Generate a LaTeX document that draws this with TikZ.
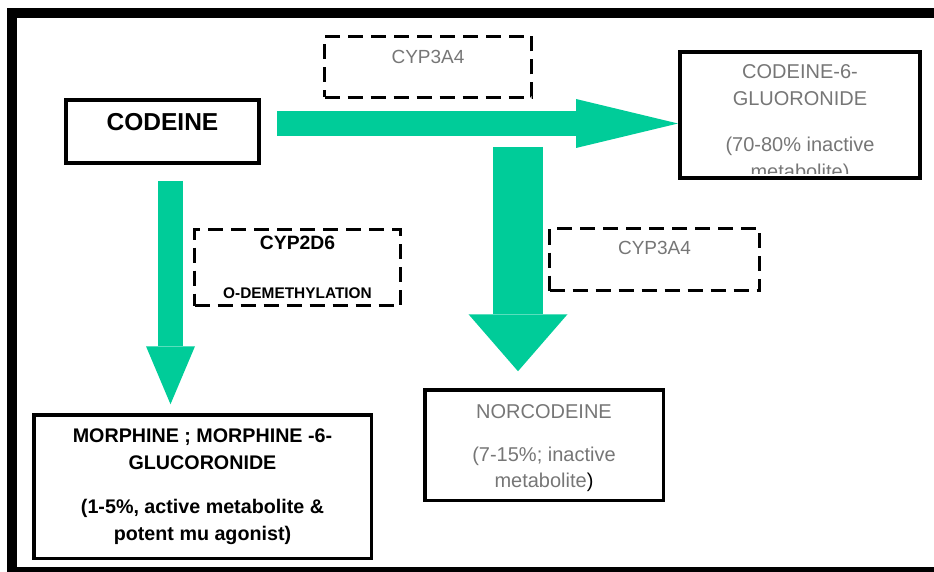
\documentclass[tikz,border=0pt]{standalone}
\usepackage{fontspec}
\setmainfont{Liberation Sans}
\usepackage{xcolor}
\usetikzlibrary{arrows.meta,positioning,calc}
\definecolor{flowgreen}{HTML}{00CC99}
\definecolor{greytext}{HTML}{767676}

\begin{document}
\begin{tikzpicture}[x=1pt, y=-1pt,
  solidbox/.style={rectangle, draw, line width=4pt, inner sep=0pt, align=center},
  cypbox/.style={rectangle, draw, line width=3pt, dash pattern=on 15pt off 8pt, inner sep=0pt, align=center},
  flow/.style={flowgreen, line width=25pt},
  greyfont/.style={text=greytext, font=\fontsize{20}{26}\selectfont},
  cypfont/.style={text=greytext, font=\fontsize{19}{23}\selectfont}
]
\useasboundingbox (0,0) rectangle (934,572);
\clip (0,0) rectangle (934,572);

\draw[line width=10pt] (945,13) -- (12,13) -- (12,572) -- (945,572);

\node[solidbox, minimum width=193pt, text height=30.5pt, text depth=32.5pt, font=\bfseries\fontsize{24.5}{28}\selectfont] (codeine) at (162.5,131.5) {CODEINE};

\node[solidbox, minimum width=240pt, minimum height=126pt] (c6g) at (800,115) {};
\node[solidbox, line width=3.5pt, minimum width=337.5pt, minimum height=143.5pt, font=\bfseries\fontsize{19.7}{27}\selectfont] (morphine) at (202.5,486.5) {MORPHINE ; MORPHINE -6-\\GLUCORONIDE\\[17pt](1-5\%, active metabolite \&\\potent mu agonist)};
\node[solidbox, line width=3.5pt, minimum width=238.5pt, minimum height=110.5pt, text height=29pt, text depth=81.5pt, greyfont] (norcodeine) at (544,445) {NORCODEINE};
\node[inner sep=0pt, align=center, greyfont, below=59pt of norcodeine.north, anchor=north] (norcodeinenote) {(7-15\%; inactive\\metabolite\textcolor{black}{)}};

\draw[flow, -{Triangle[length=102pt, width=49pt, line width=0pt]}] ([xshift=16pt, yshift=8pt]codeine.east) coordinate (toright) -- (toright -| c6g.west);
\draw[flow, -{Triangle[length=58pt, width=49pt, line width=0pt]}] ([xshift=8pt, yshift=-16pt]codeine.south) coordinate (todown) -- ([yshift=8.75pt]todown |- morphine.north);
\coordinate (split) at (518,147);
\draw[flow, line width=50pt, -{Triangle[length=57pt, width=99pt, line width=0pt]}] (split) -- ([yshift=16.75pt]split |- norcodeine.north);

\node[solidbox, minimum width=240pt, minimum height=126pt] at (c6g) {};
\begin{scope}
\clip ([yshift=6pt]c6g.south west) rectangle (c6g.north east);
\node[anchor=north, inner sep=0pt, align=center, text=greytext, font=\fontsize{20}{27}\selectfont] (c6gtext) at ([yshift=-14.7pt]c6g.north) {CODEINE-6-\\GLUORONIDE\\[19pt](70-80\% inactive\\metabolite)};
\end{scope}

\node[cypbox, minimum width=207pt, text height=27.3pt, text depth=33.7pt, cypfont] (cyptop) at (428,67) {CYP3A4};
\node[cypbox, minimum width=210pt, text height=26.3pt, text depth=35.7pt, cypfont] (cypright) at (654.5,259.5) {CYP3A4};
\node[cypbox, minimum width=206pt, minimum height=76pt, font=\bfseries\fontsize{19.3}{23}\selectfont] (cyp2d6) at (297.5,267.5) {CYP2D6\\[26pt]{\fontsize{15.4}{18}\selectfont O-DEMETHYLATION}};

\end{tikzpicture}
\end{document}
